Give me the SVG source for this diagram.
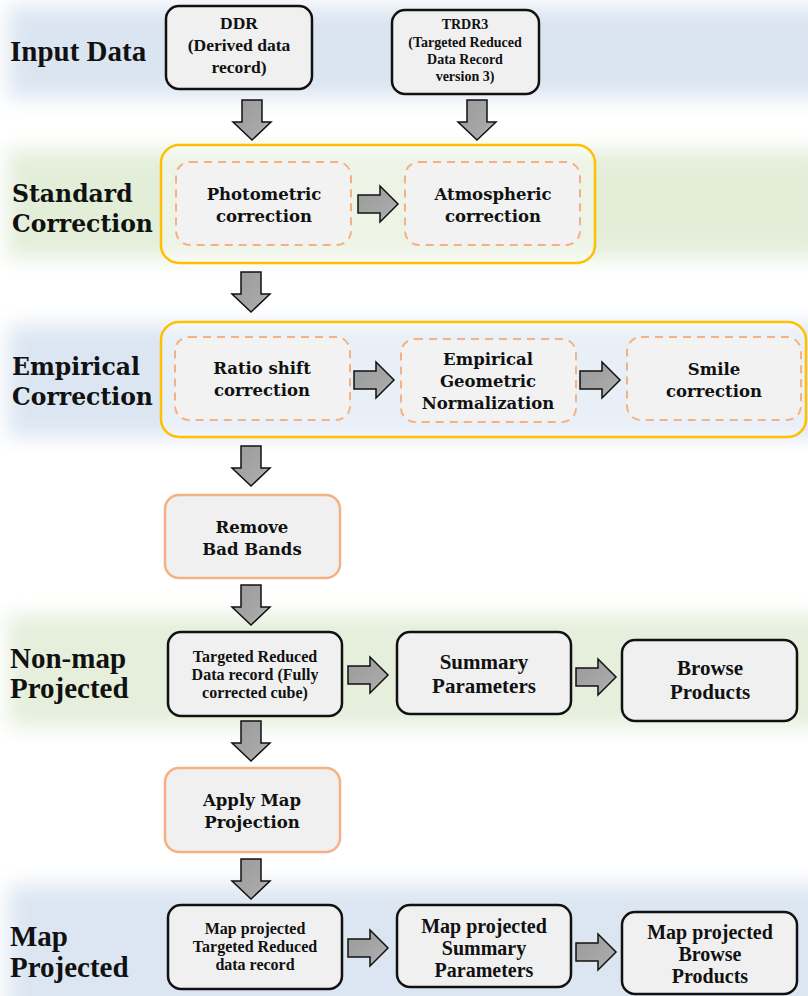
<svg xmlns="http://www.w3.org/2000/svg" width="808" height="996" viewBox="0 0 808 996">
<style>
.lbl{font-family:"Liberation Serif",serif;font-weight:bold;fill:#111;}
.geo{font-family:"DejaVu Serif","Liberation Serif",serif;font-weight:bold;fill:#111;}
.box{fill:#f0f0f0;stroke:#111;stroke-width:2.5;}
.obox{fill:#f0f0f0;stroke:#f4b183;stroke-width:2.5;}
.dbox{fill:#f2f2f2;stroke:#f4b183;stroke-width:2;stroke-dasharray:8 6;}
.cont{fill:#ffffff;fill-opacity:0.35;stroke:#ffc000;stroke-width:2.5;}
.arr{fill:url(#ag);stroke:#111;stroke-width:1.5;stroke-linejoin:miter;}
</style>
<defs>
<filter id="blur" x="-10%" y="-50%" width="120%" height="200%"><feGaussianBlur stdDeviation="10"/></filter>
<linearGradient id="ag" x1="0" y1="0" x2="1" y2="1"><stop offset="0" stop-color="#9a9a9a"/><stop offset="0.7" stop-color="#a8a8a8"/><stop offset="1" stop-color="#d8d8d8"/></linearGradient>
<path id="down" d="M-10,0 H10 V22 H19 L0,40 L-19,22 H-10 Z"/>
<path id="right" d="M0,-9 H22 V-18 L40,0 L22,18 V9 H0 Z"/>
</defs>
<rect width="808" height="996" fill="#ffffff"/>
<g id="bands" filter="url(#blur)">
<rect x="8" y="6" width="820" height="92" fill="#dbe5f1"/>
<rect x="8" y="150" width="820" height="108" fill="#e3eed9"/>
<rect x="8" y="325" width="820" height="112" fill="#dce6f2"/>
<rect x="8" y="615" width="820" height="112" fill="#e5efdc"/>
<rect x="8" y="885" width="820" height="130" fill="#dce6f2"/>
</g>
<g id="row-labels">
<text class="lbl" x="10" y="61" font-size="29">Input Data</text>
<text class="geo" x="12" y="202" font-size="23.5">Standard</text>
<text class="geo" x="12" y="232" font-size="23.5">Correction</text>
<text class="geo" x="12" y="375" font-size="23.5">Empirical</text>
<text class="geo" x="12" y="405" font-size="23.5">Correction</text>
<text class="lbl" x="10" y="668" font-size="29">Non-map</text>
<text class="lbl" x="10" y="698" font-size="29">Projected</text>
<text class="lbl" x="10" y="946" font-size="29">Map</text>
<text class="lbl" x="10" y="977" font-size="29">Projected</text>
</g>
<g id="containers">
<rect id="standard-correction" class="cont" x="161" y="145" width="434" height="118" rx="18"/>
<rect id="empirical-correction" class="cont" x="161" y="322" width="645" height="115" rx="18"/>
</g>
<g id="connectors">
<use href="#down" class="arr" x="252" y="100"/>
<use href="#down" class="arr" x="477" y="100"/>
<use href="#right" class="arr" x="358" y="204"/>
<use href="#down" class="arr" x="251" y="272"/>
<use href="#right" class="arr" x="354" y="380"/>
<use href="#right" class="arr" x="580" y="380"/>
<use href="#down" class="arr" x="251" y="446"/>
<use href="#down" class="arr" x="251" y="585"/>
<use href="#right" class="arr" x="348" y="675"/>
<use href="#right" class="arr" x="576" y="677"/>
<use href="#down" class="arr" x="251" y="721"/>
<use href="#down" class="arr" x="251" y="859"/>
<use href="#right" class="arr" x="348" y="948"/>
<use href="#right" class="arr" x="576" y="952"/>
</g>
<g id="ddr">
<rect class="box" x="166" y="6" width="146" height="83" rx="13"/>
<text class="lbl" text-anchor="middle" x="239" y="29" font-size="17.5">DDR</text>
<text class="lbl" text-anchor="middle" x="239" y="51" font-size="17.5">(Derived data</text>
<text class="lbl" text-anchor="middle" x="239" y="73" font-size="17.5">record)</text>
</g>
<g id="trdr3">
<rect class="box" x="392" y="10" width="147" height="84" rx="13"/>
<text class="lbl" text-anchor="middle" x="465" y="29" font-size="14">TRDR3</text>
<text class="lbl" text-anchor="middle" x="465" y="47" font-size="14">(Targeted Reduced</text>
<text class="lbl" text-anchor="middle" x="465" y="64" font-size="14">Data Record</text>
<text class="lbl" text-anchor="middle" x="465" y="81" font-size="14">version 3)</text>
</g>
<g id="photometric">
<rect class="dbox" x="176" y="162" width="175" height="83" rx="14"/>
<text class="geo" text-anchor="middle" x="264" y="200" font-size="16.5">Photometric</text>
<text class="geo" text-anchor="middle" x="264" y="222" font-size="16.5">correction</text>
</g>
<g id="atmospheric">
<rect class="dbox" x="405" y="162" width="175" height="83" rx="14"/>
<text class="geo" text-anchor="middle" x="493" y="200" font-size="16.5">Atmospheric</text>
<text class="geo" text-anchor="middle" x="493" y="222" font-size="16.5">correction</text>
</g>
<g id="ratio-shift">
<rect class="dbox" x="175" y="337" width="175" height="83" rx="14"/>
<text class="geo" text-anchor="middle" x="262" y="374" font-size="16.5">Ratio shift</text>
<text class="geo" text-anchor="middle" x="262" y="396" font-size="16.5">correction</text>
</g>
<g id="empirical-geometric">
<rect class="dbox" x="401" y="339" width="175" height="83" rx="14"/>
<text class="geo" text-anchor="middle" x="488" y="365" font-size="16.5">Empirical</text>
<text class="geo" text-anchor="middle" x="488" y="387" font-size="16.5">Geometric</text>
<text class="geo" text-anchor="middle" x="488" y="409" font-size="16.5">Normalization</text>
</g>
<g id="smile">
<rect class="dbox" x="627" y="337" width="174" height="83" rx="14"/>
<text class="geo" text-anchor="middle" x="714" y="375" font-size="16.5">Smile</text>
<text class="geo" text-anchor="middle" x="714" y="397" font-size="16.5">correction</text>
</g>
<g id="remove-bad-bands">
<rect class="obox" x="165" y="495" width="175" height="83" rx="14"/>
<text class="geo" text-anchor="middle" x="252" y="533" font-size="16.5">Remove</text>
<text class="geo" text-anchor="middle" x="252" y="555" font-size="16.5">Bad Bands</text>
</g>
<g id="trdr-full">
<rect class="box" x="168" y="632" width="174" height="84" rx="13"/>
<text class="lbl" text-anchor="middle" x="255" y="662" font-size="16">Targeted Reduced</text>
<text class="lbl" text-anchor="middle" x="255" y="680" font-size="16">Data record (Fully</text>
<text class="lbl" text-anchor="middle" x="255" y="698" font-size="16">corrected cube)</text>
</g>
<g id="summary-parameters">
<rect class="box" x="397" y="632" width="174" height="82" rx="13"/>
<text class="lbl" text-anchor="middle" x="484" y="669" font-size="21">Summary</text>
<text class="lbl" text-anchor="middle" x="484" y="693" font-size="21">Parameters</text>
</g>
<g id="browse-products">
<rect class="box" x="622" y="640" width="175" height="81" rx="13"/>
<text class="lbl" text-anchor="middle" x="710" y="675" font-size="21">Browse</text>
<text class="lbl" text-anchor="middle" x="710" y="699" font-size="21">Products</text>
</g>
<g id="apply-map-projection">
<rect class="obox" x="165" y="768" width="175" height="84" rx="14"/>
<text class="geo" text-anchor="middle" x="252" y="806" font-size="16.5">Apply Map</text>
<text class="geo" text-anchor="middle" x="252" y="828" font-size="16.5">Projection</text>
</g>
<g id="map-trdr">
<rect class="box" x="168" y="905" width="174" height="84" rx="13"/>
<text class="lbl" text-anchor="middle" x="255" y="934" font-size="16">Map projected</text>
<text class="lbl" text-anchor="middle" x="255" y="952" font-size="16">Targeted Reduced</text>
<text class="lbl" text-anchor="middle" x="255" y="970" font-size="16">data record</text>
</g>
<g id="map-summary">
<rect class="box" x="397" y="905" width="174" height="82" rx="13"/>
<text class="lbl" text-anchor="middle" x="484" y="933" font-size="20">Map projected</text>
<text class="lbl" text-anchor="middle" x="484" y="955" font-size="20">Summary</text>
<text class="lbl" text-anchor="middle" x="484" y="977" font-size="20">Parameters</text>
</g>
<g id="map-browse">
<rect class="box" x="622" y="912" width="175" height="82" rx="13"/>
<text class="lbl" text-anchor="middle" x="710" y="939" font-size="20">Map projected</text>
<text class="lbl" text-anchor="middle" x="710" y="961" font-size="20">Browse</text>
<text class="lbl" text-anchor="middle" x="710" y="983" font-size="20">Products</text>
</g>
</svg>
